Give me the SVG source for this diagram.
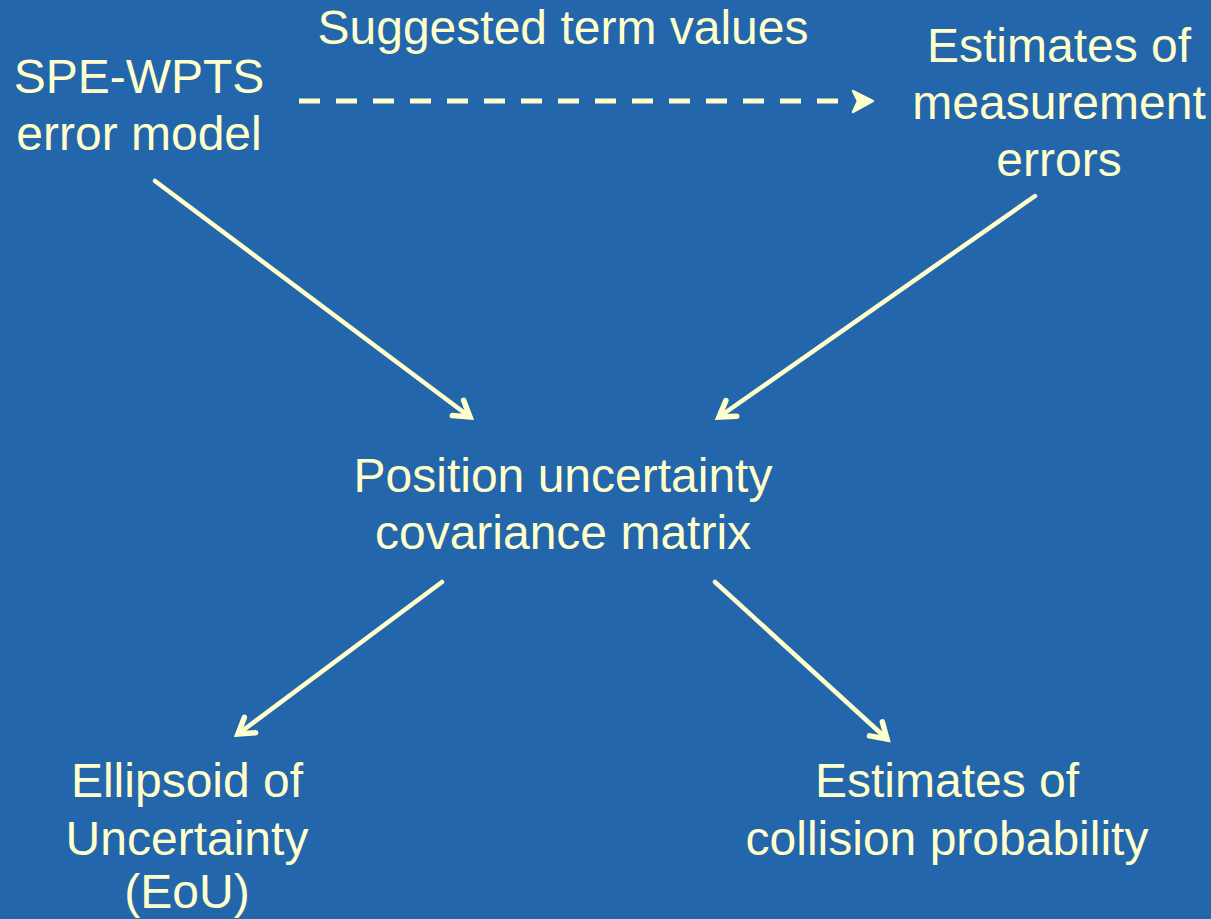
<svg xmlns="http://www.w3.org/2000/svg" width="1211" height="919" viewBox="0 0 1211 919">
<style>
text{font-family:"Liberation Sans",Arial,sans-serif;font-size:48px;fill:#FFFFCC;text-anchor:middle}
.c{stroke:#FFFFCC;stroke-width:4.5;fill:none;stroke-linecap:round}
.d{stroke-dasharray:21 16;stroke-linecap:butt;stroke-width:5}
</style>
<defs>
<marker id="ah" markerUnits="userSpaceOnUse" markerWidth="40" markerHeight="40" refX="20" refY="20" orient="auto" viewBox="0 0 40 40">
<polyline points="5,10.5 20,20 5,29.5" fill="none" stroke="#FFFFCC" stroke-width="5.5" stroke-linecap="round" stroke-linejoin="miter"/>
</marker>
</defs>
<rect width="1211" height="919" fill="#2366AC"/>
<g id="connectors">
<line class="c d" x1="299" y1="101" x2="850" y2="101"/>
<path d="M853,91 L873,101 L853,112 L858,101 Z" fill="#FFFFCC" stroke="#FFFFCC" stroke-width="2.5" stroke-linejoin="round"/>
<line class="c" x1="155" y1="181" x2="470" y2="417" marker-end="url(#ah)"/>
<line class="c" x1="1035" y1="196" x2="719" y2="417" marker-end="url(#ah)"/>
<line class="c" x1="442" y1="582" x2="238" y2="734" marker-end="url(#ah)"/>
<line class="c" x1="715" y1="582" x2="887" y2="739" marker-end="url(#ah)"/>
</g>
<g id="edge-label"><text x="563" y="44">Suggested term values</text></g>
<g id="spe"><text x="139" y="93">SPE-WPTS</text><text x="139" y="150">error model</text></g>
<g id="meas"><text x="1059" y="62">Estimates of</text><text x="1059" y="119">measurement</text><text x="1059" y="176">errors</text></g>
<g id="cov"><text x="563" y="492">Position uncertainty</text><text x="563" y="549">covariance matrix</text></g>
<g id="eou"><text x="187" y="797">Ellipsoid of</text><text x="187" y="855">Uncertainty</text><text x="187" y="908">(EoU)</text></g>
<g id="coll"><text x="947" y="797">Estimates of</text><text x="947" y="855">collision probability</text></g>
</svg>
